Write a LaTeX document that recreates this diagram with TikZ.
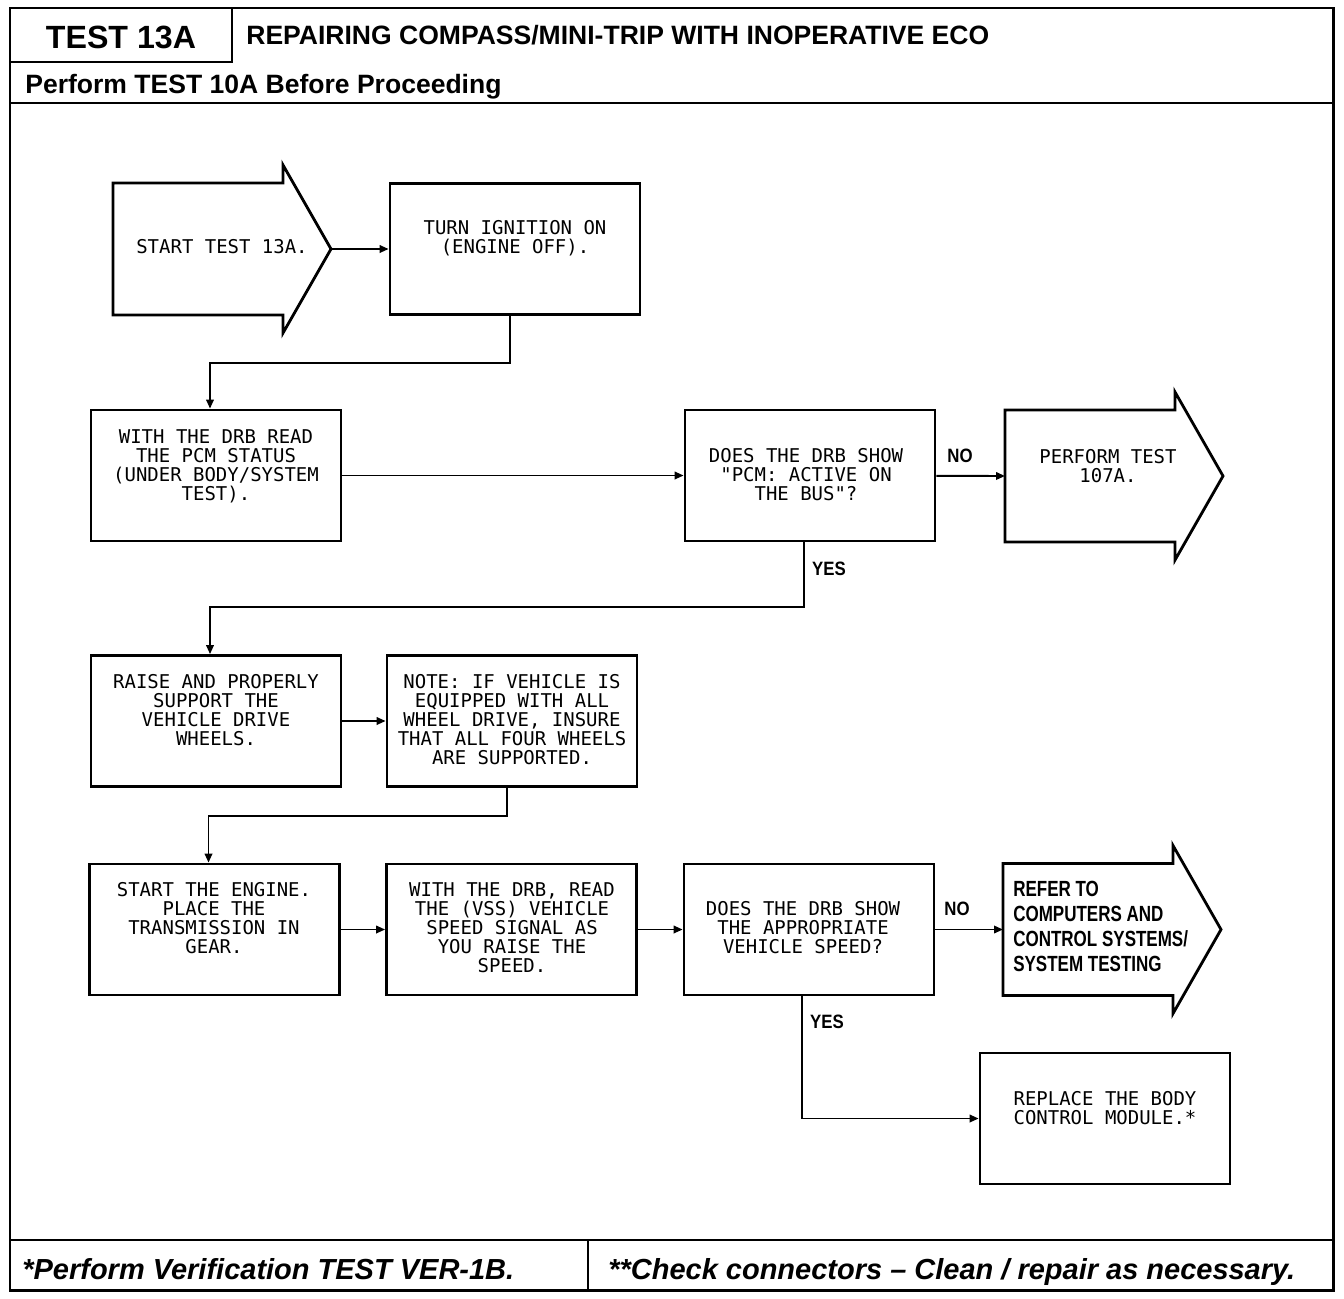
\documentclass[tikz,border=0pt]{standalone}
\usepackage{fontspec}
\usetikzlibrary{arrows.meta,calc}
\newfontfamily\headfont{Liberation Sans}
\newfontfamily\plotfont{DejaVu Sans Mono}
% fat arrow: left x, middle y, name
\def\fatarrow(#1,#2)#3{\draw[line width=1.6pt] (#1,#2-66) -- (#1+170,#2-66) -- (#1+170,#2-84) -- (#1+218,#2) -- (#1+170,#2+84) -- (#1+170,#2+66) -- (#1,#2+66) -- cycle;
	\coordinate (#3-w) at (#1,#2);
	\coordinate (#3-e) at (#1+218,#2);}

\begin{document}
\begin{tikzpicture}[x=0.02cm, y=-0.02cm,
	every node/.style={inner sep=0pt},
	box/.style={draw, line width=1.6pt, minimum width=5cm, minimum height=2.62cm},
	txt/.style={font=\plotfont\fontsize{10.8}{10.8}\selectfont, align=center},
	lbl/.style={font=\headfont\bfseries\fontsize{11}{12}\selectfont, xscale=0.87, transform shape},
	head/.style={font=\headfont\bfseries\fontsize{15.1}{17}\selectfont, anchor=base west},
	foot/.style={font=\headfont\bfseries\itshape\fontsize{16.5}{18}\selectfont, anchor=base west},
	link/.style={line width=1.1pt, -{Triangle[length=0.18cm, width=0.15cm]}}]
			%%%%% START %%%%%
			\useasboundingbox (0,0) rectangle (1344,1298);
			
			% frame
			\draw[line width=1.7pt] (10,8) rectangle (1333,1290);
			\draw[line width=1.5pt] (10,62) -- (232,62) -- (232,8);
			\draw[line width=1.5pt] (10,103) -- (1333,103);
			\draw[line width=1.5pt] (10,1240) -- (1333,1240);
			\draw[line width=1.5pt] (588,1240) -- (588,1290);
			
			\node[font=\headfont\bfseries\fontsize{18.3}{20}\selectfont, anchor=base] (num) at (121,48) {TEST 13A};
			\node[head] (title) at (246,44) {REPAIRING COMPASS/MINI-TRIP WITH INOPERATIVE ECO};
			\node[head] (pre) at (25,93) {Perform TEST 10A Before Proceeding};
			\node[foot] (ver) at (22,1279) {*Perform Verification TEST VER-1B.};
			\node[foot] (chk) at (608,1279) {**Check connectors – Clean / repair as necessary.};
			
			% row 1
			\fatarrow(113,249){start}
			\node[txt] (start-t) at (222,247) {START TEST 13A.};
			\node[box] (ign) at (515,249) {};
			\node[txt] (ign-t) at (515,238) {TURN IGNITION ON\\(ENGINE OFF).};
			
			% row 2
			\node[box] (drb) at (216,475.5) {};
			\node[txt] (drb-t) at (216,466) {WITH THE DRB READ\\THE PCM STATUS\\(UNDER BODY/SYSTEM\\TEST).};
			\node[box] (pcm) at (810,475.5) {};
			\node[txt] (pcm-t) at (806,475) {DOES THE DRB SHOW\\"PCM: ACTIVE ON\\THE BUS"?};
			\fatarrow(1005,476){perf}
			\node[txt] (perf-t) at (1108,466) {PERFORM TEST\\107A.};
			
			% row 3
			\node[box] (raise) at (216,721) {};
			\node[txt] (raise-t) at (216,710) {RAISE AND PROPERLY\\SUPPORT THE\\VEHICLE DRIVE\\WHEELS.};
			\node[box] (note) at (512,721) {};
			\node[txt] (note-t) at (512,720) {NOTE: IF VEHICLE IS\\EQUIPPED WITH ALL\\WHEEL DRIVE, INSURE\\THAT ALL FOUR WHEELS\\ARE SUPPORTED.};
			
			% row 4
			\node[box] (eng) at (214.5,929.5) {};
			\node[txt] (eng-t) at (214,918) {START THE ENGINE.\\PLACE THE\\TRANSMISSION IN\\GEAR.};
			\node[box] (vss) at (511.5,929.5) {};
			\node[txt] (vss-t) at (512,928) {WITH THE DRB, READ\\THE (VSS) VEHICLE\\SPEED SIGNAL AS\\YOU RAISE THE\\SPEED.};
			\node[box] (spd) at (809,929.5) {};
			\node[txt] (spd-t) at (803,928) {DOES THE DRB SHOW\\THE APPROPRIATE\\VEHICLE SPEED?};
			\fatarrow(1003,929.5){refer}
			\node[lbl, font=\headfont\bfseries\fontsize{12.5}{14.2}\selectfont, xscale=0.89, align=left, anchor=west] (refer-t) at (1013,926) {REFER TO\\COMPUTERS AND\\CONTROL SYSTEMS/\\SYSTEM TESTING};
			\node[box] (bcm) at (1105,1118.5) {};
			\node[txt] (bcm-t) at (1105,1108) {REPLACE THE BODY\\CONTROL MODULE.*};
			
			% links
			\draw[link] (start-e) -- (ign.west);
			\draw[link] ([xshift=-0.1cm]ign.south) -- ++(0,47) -| ([xshift=-0.12cm]drb.north);
			\draw[link] (drb) -- (pcm);
			\draw[link] (pcm) -- (perf-w);
			\draw[link] ([xshift=-0.12cm]pcm.south) -- ++(0,65) -| ([xshift=-0.12cm]raise.north);
			\draw[link] (raise) -- (note);
			\draw[link] ([xshift=-0.1cm]note.south) -- ++(0,28) -| ([xshift=-0.12cm]eng.north);
			\draw[link] (eng) -- (vss);
			\draw[link] (vss) -- (spd);
			\draw[link] (spd) -- (refer-w);
			\draw[link] ([xshift=-0.14cm]spd.south) |- (bcm.west);
			
			\node[lbl] (no1) at (960,456) {NO};
			\node[lbl] (yes1) at (829,569) {YES};
			\node[lbl] (no2) at (957,909) {NO};
			\node[lbl] (yes2) at (827,1022) {YES};
			%%%%% END %%%%%
\end{tikzpicture}
\end{document}
